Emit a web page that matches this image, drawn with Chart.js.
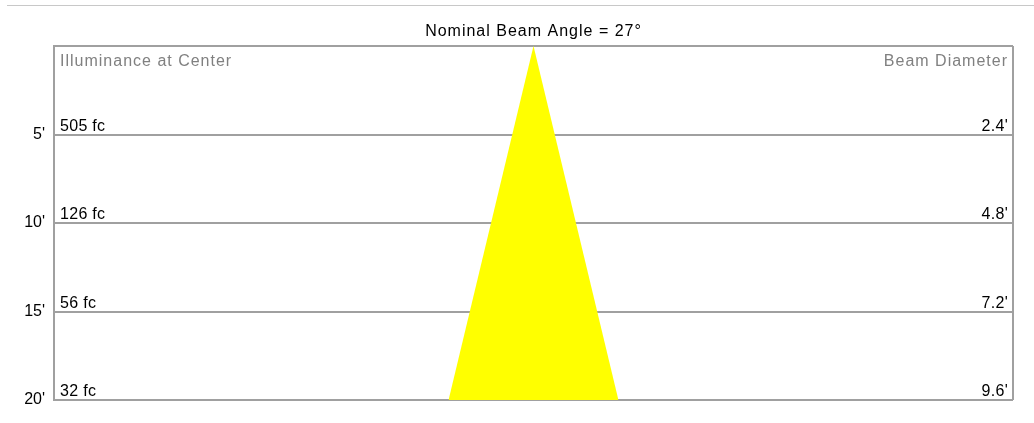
<!DOCTYPE html>
<html>
<head>
<meta charset="utf-8">
<script src="https://cdn.jsdelivr.net/npm/chart.js@4.4.1/dist/chart.umd.min.js"></script>
<style>
  html, body { margin: 0; padding: 0; background: #fff; }
  #wrap { position: relative; width: 1034px; height: 423px; }
  #rule { position: absolute; left: 7px; right: 0; top: 5px; border-top: 1px solid #c8c8c8; }
</style>
</head>
<body>
<div id="wrap">
  <div id="rule"></div>
  <canvas id="beam" width="1034" height="423"></canvas>
</div>
<script>
// distances (ft) and readings from the photometric sheet
const distances = [5, 10, 15, 20];
const illuminance = ['505 fc', '126 fc', '56 fc', '32 fc'];
const beamDiameter = [2.4, 4.8, 7.2, 9.6];
const beamAngle = 27;
const halfWidth = 27.1; // ft shown either side of the beam axis

const FONT = '"Liberation Sans", Arial, sans-serif';
const GRID = '#a0a0a0';

// cone outline: apex at 0 ft, spreads to the last beam diameter
const lastD = beamDiameter[beamDiameter.length - 1];
const lastDist = distances[distances.length - 1];
const cone = [
  { x: -lastD / 2, y: lastDist },
  { x: 0, y: 0 },
  { x: lastD / 2, y: lastDist },
];

const labelsPlugin = {
  id: 'beamLabels',
  afterDraw(chart) {
    const { ctx, chartArea, scales } = chart;
    const cx = scales.x.getPixelForValue(0);
    ctx.save();
    ctx.font = '16px ' + FONT;
    ctx.textBaseline = 'alphabetic';

    // the original ui font runs wider than Liberation, so space the words out a bit
    ctx.letterSpacing = '1px';
    ctx.fillStyle = '#000';
    ctx.textAlign = 'center';
    ctx.fillText('Nominal Beam Angle = ' + beamAngle + '\u00b0', cx, 36);

    ctx.fillStyle = '#808080';
    ctx.textAlign = 'left';
    ctx.fillText('Illuminance at Center', chartArea.left + 6, chartArea.top + 20);
    ctx.textAlign = 'right';
    ctx.fillText('Beam Diameter', chartArea.right - 5, chartArea.top + 20);

    ctx.letterSpacing = '0.3px';
    ctx.fillStyle = '#000';
    distances.forEach((d, i) => {
      const y = scales.y.getPixelForValue(d) - 4;
      ctx.textAlign = 'left';
      ctx.fillText(illuminance[i], chartArea.left + 6, y);
      ctx.textAlign = 'right';
      ctx.fillText(beamDiameter[i].toFixed(1) + "'", chartArea.right - 5, y);
    });
    ctx.restore();
  }
};

new Chart(document.getElementById('beam'), {
  type: 'scatter',
  data: {
    datasets: [{
      data: cone,
      showLine: true,
      borderWidth: 0,
      borderColor: '#ffff00',
      backgroundColor: '#ffff00',
      pointRadius: 0,
      fill: { value: lastDist },
    }]
  },
  plugins: [labelsPlugin],
  options: {
    responsive: false,
    animation: false,
    layout: { padding: { left: 0, right: 21, top: 46, bottom: 23 } },
    plugins: {
      legend: { display: false },
      tooltip: { enabled: false },
      title: { display: false },
    },
    scales: {
      x: {
        type: 'linear',
        min: -halfWidth,
        max: halfWidth,
        afterBuildTicks(scale) {
          scale.ticks = [{ value: -halfWidth }, { value: halfWidth }];
        },
        afterFit(scale) { scale.height = 0; },
        ticks: { display: false },
        grid: { color: GRID, lineWidth: 2, drawTicks: false },
        border: { display: false },
      },
      y: {
        type: 'linear',
        reverse: true,
        min: 0,
        max: lastDist,
        afterBuildTicks(scale) {
          scale.ticks = [0].concat(distances).map(v => ({ value: v }));
        },
        afterFit(scale) { scale.width = 54; },
        ticks: {
          padding: 9,
          color: '#000',
          font: { family: FONT, size: 16 },
          callback: v => (v === 0 ? '' : v + "'"),
        },
        grid: { color: GRID, lineWidth: 2, drawTicks: false },
        border: { color: GRID, width: 2 },
      }
    }
  }
});
</script>
</body>
</html>
